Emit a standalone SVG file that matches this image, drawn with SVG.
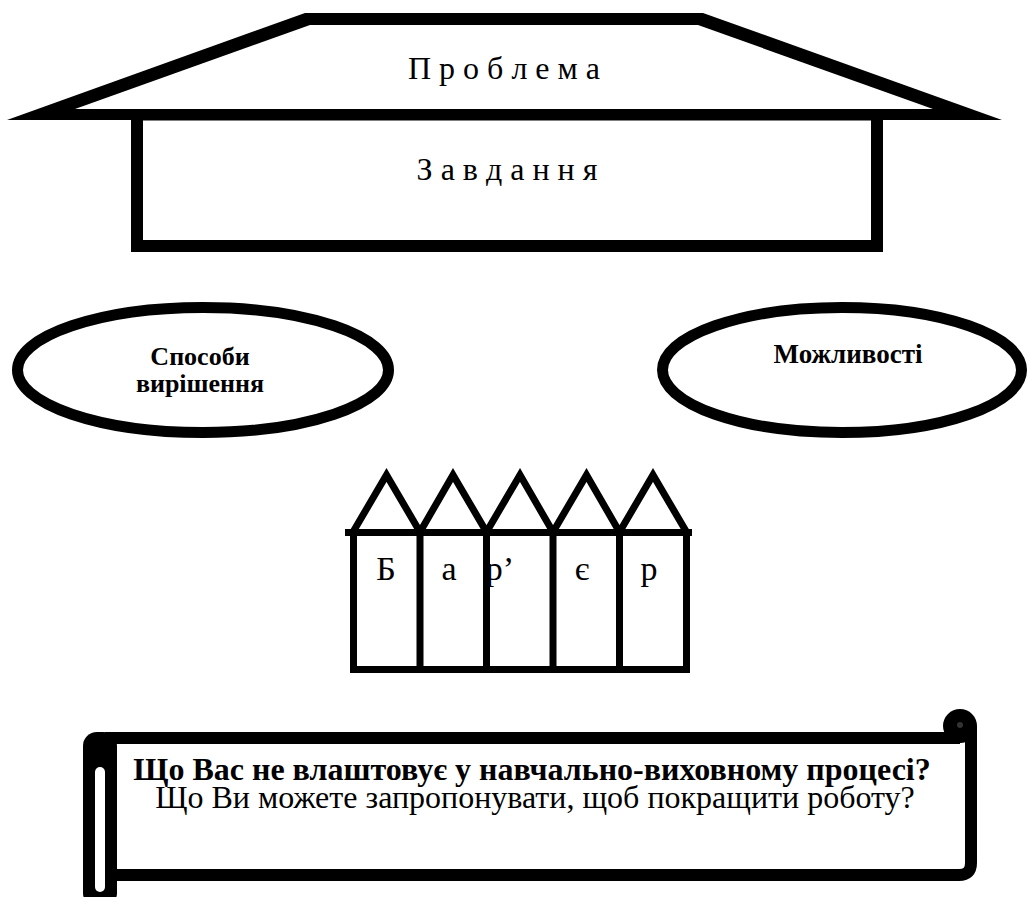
<svg xmlns="http://www.w3.org/2000/svg" width="1028" height="897" viewBox="0 0 1028 897">
  <style>
    text { font-family: "Liberation Serif", "Times New Roman", serif; fill: #000; }
    .b { font-weight: bold; }
    .ln { fill: none; stroke: #000; }
  </style>
  <rect width="1028" height="897" fill="#fff"/>

  <!-- house: walls with the task, roof with the problem -->
  <g id="walls">
    <rect x="137" y="114.5" width="740" height="131.5" fill="#fff" stroke="#000" stroke-width="12"/>
    <text x="507" y="180" font-size="32" text-anchor="middle">З а в д а н н я</text>
  </g>
  <g id="roof">
    <polygon points="7,120 305,13 703,13 1002,120" fill="#000"/>
    <polygon points="75,109 310,25 698,25 933,109" fill="#fff"/>
    <text x="504" y="79" font-size="32" text-anchor="middle">П р о б л е м а</text>
  </g>

  <!-- two ellipses -->
  <g id="ways">
    <ellipse cx="203" cy="370" rx="185.5" ry="62.5" fill="#fff" stroke="#000" stroke-width="11"/>
    <text class="b" x="200" y="365" font-size="26" text-anchor="middle">Способи</text>
    <text class="b" x="200" y="392" font-size="26" text-anchor="middle">вирішення</text>
  </g>
  <g id="abilities">
    <ellipse cx="842" cy="370" rx="179.5" ry="62.5" fill="#fff" stroke="#000" stroke-width="11"/>
    <text class="b" x="848" y="363" font-size="27" text-anchor="middle">Можливості</text>
  </g>

  <!-- fence of five pickets -->
  <g id="barrier">
    <path class="ln" stroke-width="7" stroke-linejoin="miter" d="M353,532 L386.5,475 L420,532 L453,475 L486.5,532 L520,475 L553,532 L586.5,475 L619.5,532 L653,475 L686.5,532"/>
    <path class="ln" stroke-width="7" d="M345,532.5 H692 M350,669.5 H690 M353.5,532 V670 M420,532 V670 M486.5,532 V670 M553,532 V670 M619.5,532 V670 M686.5,532 V670"/>
    <text x="386" y="580" font-size="34" text-anchor="middle">Б</text>
    <text x="449" y="580" font-size="34" text-anchor="middle">а</text>
    <text x="500" y="580" font-size="34" text-anchor="middle">р’</text>
    <text x="582" y="580" font-size="34" text-anchor="middle">є</text>
    <text x="649" y="580" font-size="34" text-anchor="middle">р</text>
  </g>

  <!-- horizontal scroll with the questions -->
  <g id="scroll">
    <path class="ln" stroke-width="12" d="M105,738 H960 M971,726 V863 Q971,875 959,875 H105"/>
    <circle cx="960" cy="726" r="17" fill="#000"/>
    <circle cx="960" cy="725" r="3" fill="#333"/>
    <rect x="83" y="732" width="34" height="175" rx="14" fill="#000"/>
    <rect x="95" y="767" width="10" height="125" rx="5" fill="#fff"/>
    <text class="b" x="532" y="780" font-size="32" text-anchor="middle">Що Вас не влаштовує у навчально-виховному процесі?</text>
    <text x="535" y="808" font-size="32" text-anchor="middle">Що Ви можете запропонувати, щоб покращити роботу?</text>
  </g>
</svg>
